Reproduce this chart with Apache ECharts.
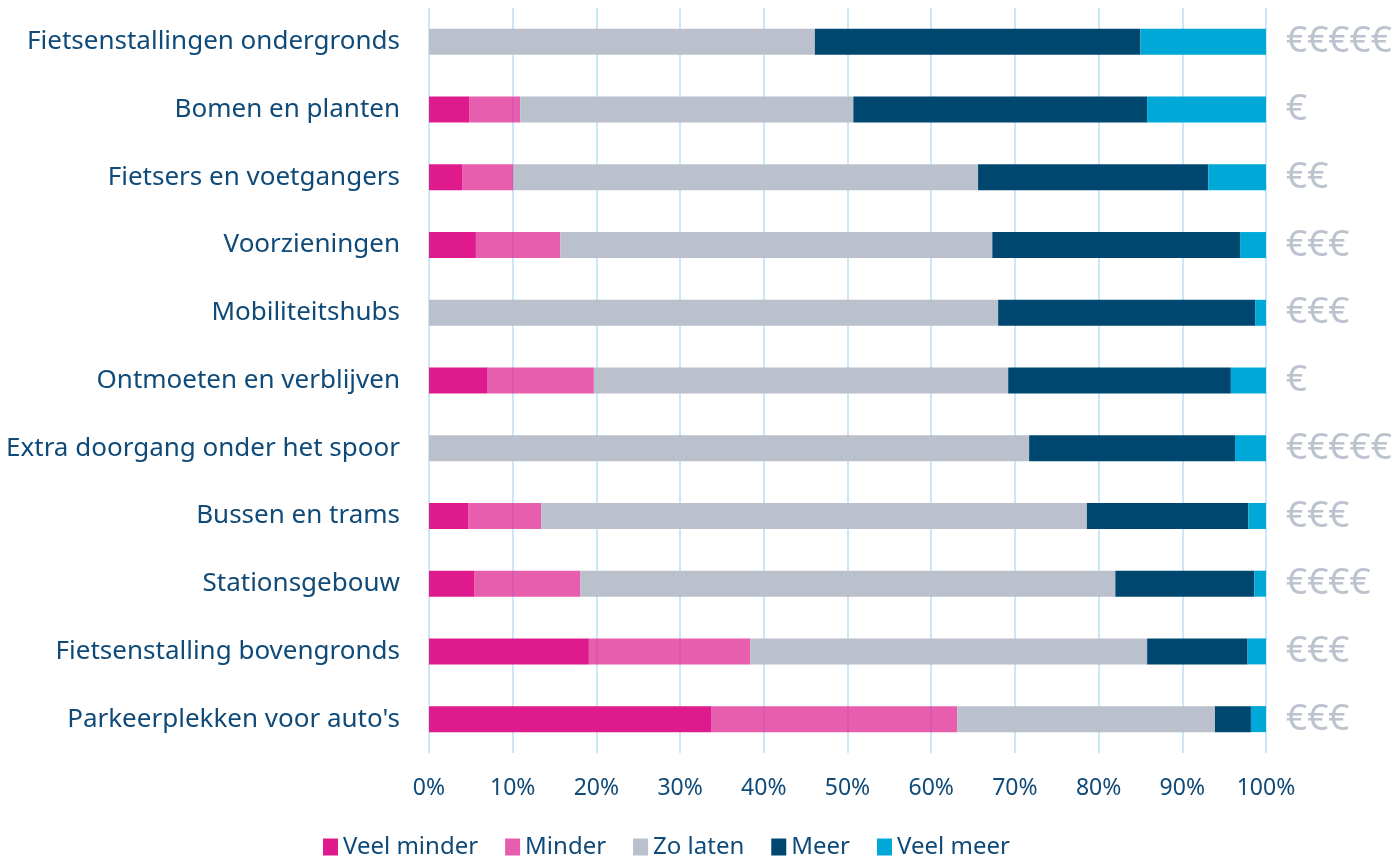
<!DOCTYPE html>
<html>
<head>
<meta charset="utf-8">
<title>Stacked bar</title>
<script src="https://cdn.jsdelivr.net/npm/echarts@6/dist/echarts.min.js"></script>
<style>
  html, body { margin: 0; padding: 0; background: #fff; }
  #chart { width: 1393px; height: 857px; }
</style>
</head>
<body>
<div id="chart"></div>
<script>
// categorieen (boven naar beneden)
const categories = [
  'Fietsenstallingen ondergronds',
  'Bomen en planten',
  'Fietsers en voetgangers',
  'Voorzieningen',
  'Mobiliteitshubs',
  'Ontmoeten en verblijven',
  'Extra doorgang onder het spoor',
  'Bussen en trams',
  'Stationsgebouw',
  'Fietsenstalling bovengronds',
  "Parkeerplekken voor auto's"
]
const costs = ['€€€€€', '€', '€€', '€€€', '€€€', '€', '€€€€€', '€€€', '€€€€', '€€€', '€€€']

const seriesNames = ['Veel minder', 'Minder', 'Zo laten', 'Meer', 'Veel meer']

// percentages per antwoord
const veelMinder = [0, 4.8, 4.0, 5.6, 0, 7.0, 0, 4.7, 5.4, 19.1, 33.7]
const minder = [0, 6.1, 6.1, 10.1, 0, 12.7, 0, 8.7, 12.7, 19.3, 29.4]
const zoLaten = [46.1, 39.8, 55.5, 51.6, 68.0, 49.5, 71.7, 65.2, 63.9, 47.4, 30.8]
const meer = [38.9, 35.1, 27.5, 29.6, 30.7, 26.6, 24.6, 19.3, 16.6, 12.0, 4.3]
const veelMeer = [15.0, 14.2, 6.9, 3.1, 1.3, 4.2, 3.7, 2.1, 1.4, 2.2, 1.8]

const xTicks = [0, 10, 20, 30, 40, 50, 60, 70, 80, 90, 100]

const textColor = '#0f4a78'
const fontFamily = '"Noto Sans", sans-serif'

const chart = echarts.init(document.getElementById('chart'))

function bar(name, data, color, opacity) {
  return {
    name: name,
    type: 'bar',
    stack: 'total',
    barWidth: 26,
    data: data,
    itemStyle: { color: color, opacity: opacity },
    emphasis: { disabled: true }
  }
}

const option = {
  animation: false,
  textStyle: { fontFamily: fontFamily },
  grid: {
    left: 429,
    right: 127,
    top: 8,
    bottom: 104,
    outerBoundsMode: 'none'
  },
  legend: {
    data: seriesNames,
    left: 318,
    top: 830,
    icon: 'rect',
    itemWidth: 15,
    itemHeight: 17,
    itemGap: 27,
    textStyle: { fontSize: 24, color: textColor, fontFamily: fontFamily }
  },
  xAxis: {
    type: 'value',
    min: xTicks[0],
    max: xTicks[xTicks.length - 1],
    interval: 10,
    axisLine: { show: false },
    axisTick: { show: false },
    axisLabel: {
      formatter: '{value}%',
      fontSize: 23,
      color: textColor,
      margin: 24
    },
    splitLine: { lineStyle: { color: '#cbe7f9', width: 2 } }
  },
  yAxis: [
    {
      type: 'category',
      data: categories,
      inverse: true,
      axisLine: { show: false },
      axisTick: { show: false },
      axisLabel: { fontSize: 26, color: textColor, margin: 29 }
    },
    {
      type: 'category',
      data: costs,
      inverse: true,
      position: 'right',
      axisLine: { show: false },
      axisTick: { show: false },
      axisLabel: { fontSize: 37, color: '#bcc3cf', margin: 20 }
    }
  ],
  series: [
    bar(seriesNames[0], veelMinder, '#de1a8c', 1),
    bar(seriesNames[1], minder, '#de1a8c', 0.7),
    bar(seriesNames[2], zoLaten, '#bac0cc', 1),
    bar(seriesNames[3], meer, '#00476f', 1),
    bar(seriesNames[4], veelMeer, '#00a8d8', 1)
  ]
}

chart.setOption(option)
</script>
</body>
</html>
